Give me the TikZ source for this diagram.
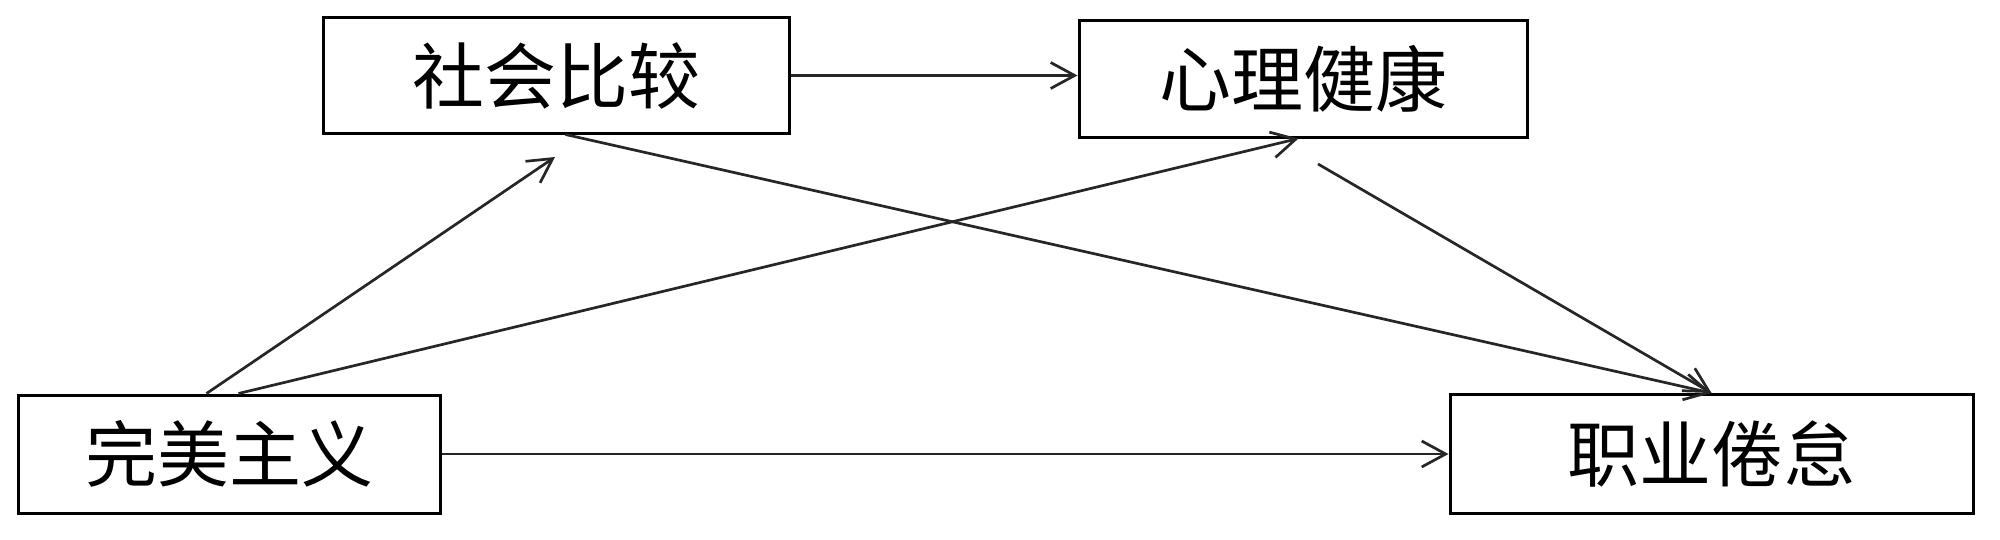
\documentclass[tikz,border=0pt]{standalone}
\usepackage{fontspec}
\newfontfamily\cjk{Noto Sans CJK SC}
\usetikzlibrary{arrows.meta}
\begin{document}
\begin{tikzpicture}[x=0.5pt,y=-0.5pt,
  box/.style={draw=black, line width=1.5pt, inner sep=0pt, fill=white,
    font=\cjk\fontsize{36pt}{42pt}\selectfont},
  arr/.style={draw=black!85, line width=1.35pt,
    -{Straight Barb[length=12pt,width=13pt,line width=1.35pt]}}]
\useasboundingbox (0,0) rectangle (2000,540);
\node[box, minimum width=233pt, minimum height=57.5pt] (A) at (556,75.5) {社会比较};
\node[box, minimum width=224pt, minimum height=58pt] (B) at (1303,79) {心理健康};
\node[box, minimum width=211pt, minimum height=59pt] (C) at (229,454) {完美主义};
\node[box, minimum width=261.5pt, minimum height=59.5pt] (D) at (1711.5,454) {职业倦怠};
\coordinate (ca) at (555,157);
\coordinate (bd) at (1318,164);
\draw[arr] (A.east) -- (A.east -| B.west);
\draw[arr] (C.east) -- (D.west);
\draw[arr] ([xshift=95pt]C.north west) -- (ca);
\draw[arr] ([xshift=111pt]C.north west) -- ([xshift=110.5pt]B.south west);
\draw[arr] ([xshift=122pt]A.south west) -- (D.north);
\draw[arr] (bd) -- (D.north);
\end{tikzpicture}
\end{document}
